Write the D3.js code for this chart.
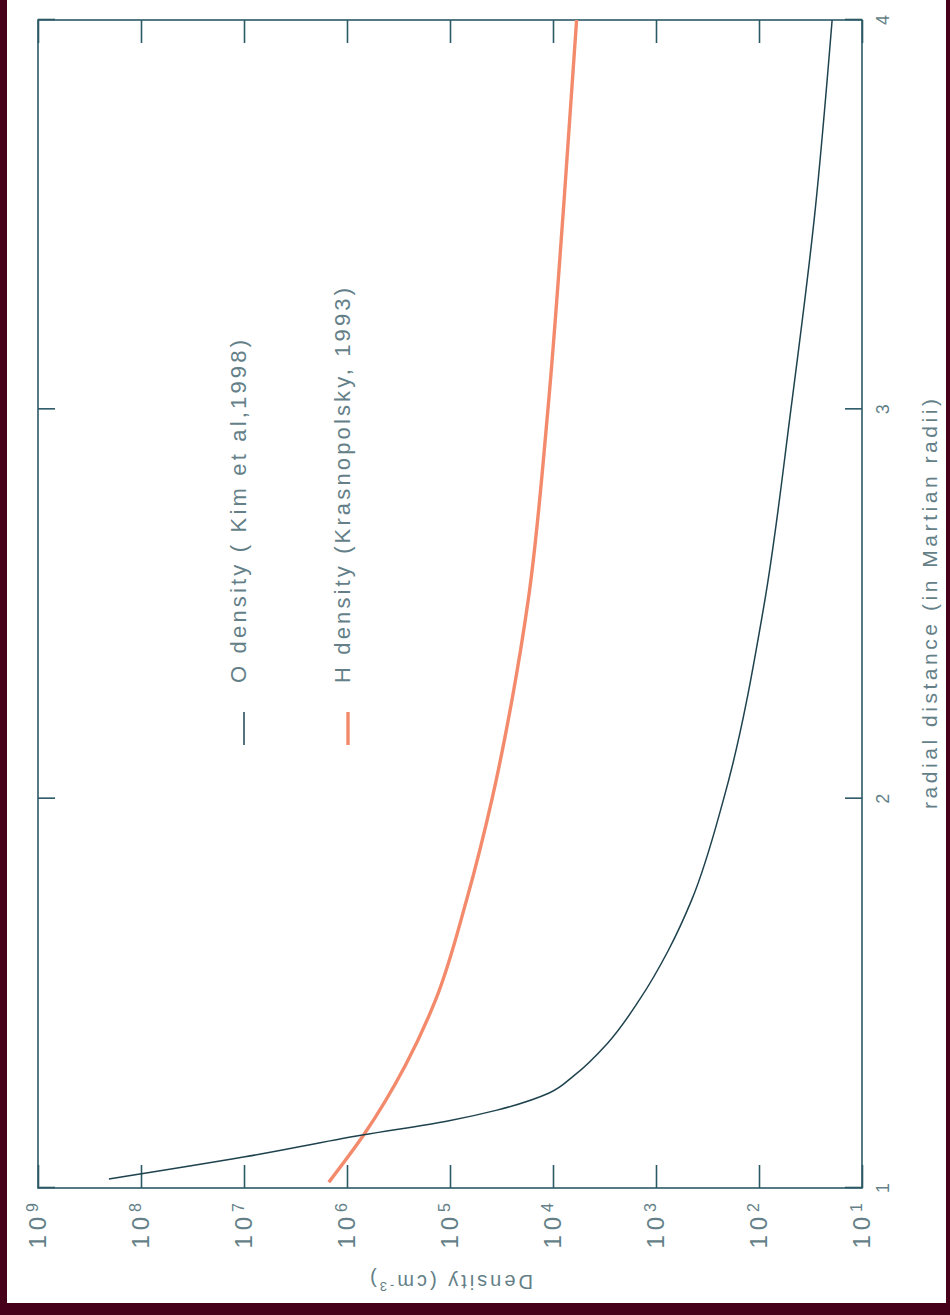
<!DOCTYPE html>
<html><head><meta charset="utf-8">
<script src="https://cdn.jsdelivr.net/npm/d3@7"></script>
<style>html,body{margin:0;padding:0;background:#fff;}</style>
</head><body>
<svg id="c" width="950" height="1315"></svg>
<script>
// ---- data ----
const xTicks = [1, 2, 3, 4];
const yTickExps = [1, 2, 3, 4, 5, 6, 7, 8, 9];
// O density (Kim et al, 1998)
const oRadius  = [1.023, 1.080, 1.136, 1.172, 1.200, 1.244, 1.288, 1.372, 1.483, 1.610, 1.740, 2.000, 2.500, 3.000, 3.500, 4.000];
const oDensity = [2.05e8, 9.8e6, 7.1e5, 1.05e5, 3.5e4, 1.09e4, 6.3e3, 2.95e3, 1.45e3, 7.6e2, 4.5e2, 2.2e2, 89, 49, 28.8, 19.5];
// H density (Krasnopolsky, 1993)
const hRadius  = [1.015, 1.136, 1.316, 1.483, 1.740, 2.000, 2.254, 2.510, 3.000, 3.538, 4.000];
const hDensity = [1.5e6, 6.9e5, 2.7e5, 1.38e5, 6.9e4, 3.9e4, 2.5e4, 1.74e4, 1.12e4, 7.8e3, 5.9e3];
const legendLabels = ["O density ( Kim et al,1998)", "H density (Krasnopolsky, 1993)"];
const xTitle = "radial distance (in Martian radii)";
const yTitle = "Density (cm";

// ---- layout ----
const W = 950, H = 1315;
const svg = d3.select("#c");
const maroon = "#46001a";
svg.append("rect").attr("width", W).attr("height", H).attr("fill", maroon);
svg.append("rect").attr("x", 7).attr("y", 0).attr("width", 939).attr("height", 1303).attr("fill", "#fff");

// chart is drawn in its natural orientation then rotated 90deg counter-clockwise
const g = svg.append("g").attr("transform", `translate(0,${H}) rotate(-90)`);
const axisCol = "#2c5966", textCol = "#647f88";

const x = d3.scaleLinear().domain([1, 4]).range([127, 1295]);
const y = d3.scaleLog().domain([1e1, 1e9]).range([862, 38]);

// frame
g.append("rect").attr("x", x(1)).attr("y", y(1e9)).attr("width", x(4) - x(1)).attr("height", y(1e1) - y(1e9))
  .attr("fill", "none").attr("stroke", axisCol).attr("stroke-width", 1.6);

const yVals = yTickExps.map(e => Math.pow(10, e));
function styleAxis(sel) {
  sel.select(".domain").remove();
  sel.selectAll(".tick line").attr("stroke", axisCol).attr("stroke-width", 1.6);
  sel.selectAll(".tick text").remove();
}
g.append("g").attr("transform", `translate(0,${y(1e1)})`).call(d3.axisBottom(x).tickValues(xTicks).tickSize(-17)).call(styleAxis);
g.append("g").attr("transform", `translate(0,${y(1e9)})`).call(d3.axisTop(x).tickValues(xTicks).tickSize(-17)).call(styleAxis);
g.append("g").attr("transform", `translate(${x(1)},0)`).call(d3.axisLeft(y).tickValues(yVals).tickSize(-23)).call(styleAxis);
g.append("g").attr("transform", `translate(${x(4)},0)`).call(d3.axisRight(y).tickValues(yVals).tickSize(-23)).call(styleAxis);

const font = "'Liberation Sans', Arial, sans-serif";
// x tick labels
g.selectAll("text.xt").data(xTicks).join("text").attr("class", "xt")
  .attr("x", d => x(d)).attr("y", 883).attr("dy", "0.35em")
  .attr("text-anchor", "middle").attr("font-family", font).attr("font-size", 18).attr("fill", textCol)
  .text(d => d);
// y tick labels 10^n
const yt = g.selectAll("text.yt").data(yTickExps).join("text").attr("class", "yt")
  .attr("x", 117).attr("y", d => y(Math.pow(10, d))).attr("dy", "0.35em")
  .attr("text-anchor", "end").attr("font-family", font).attr("font-size", 24).attr("fill", textCol)
  .attr("letter-spacing", 5);
yt.append("tspan").text("10");
yt.append("tspan").attr("dy", "-0.5em").attr("font-size", 16).text(d => d);

// axis titles
g.append("text").attr("x", x(2.5)).attr("y", 930).attr("dy", "0.35em").attr("text-anchor", "middle")
  .attr("font-family", font).attr("font-size", 21).attr("fill", textCol)
  .attr("textLength", 410).attr("lengthAdjust", "spacing").text(xTitle);
const yl = g.append("text").attr("transform", `translate(33,${y(1e5)}) rotate(-90)`).attr("dy", "0.35em")
  .attr("text-anchor", "middle").attr("font-family", font).attr("font-size", 20).attr("fill", textCol)
  .attr("letter-spacing", 3);
yl.append("tspan").text(yTitle);
yl.append("tspan").attr("dy", "-0.5em").attr("font-size", 13).text("-3");
yl.append("tspan").attr("dy", "0.5em").text(")");

// curves
const line = d3.line().x(d => x(d[0])).y(d => y(d[1])).curve(d3.curveMonotoneX);
g.append("path").datum(hRadius.map((r, i) => [r, hDensity[i]])).attr("d", line)
  .attr("fill", "none").attr("stroke", "#f38a6c").attr("stroke-width", 3.4);
g.append("path").datum(oRadius.map((r, i) => [r, oDensity[i]])).attr("d", line)
  .attr("fill", "none").attr("stroke", "#1f434e").attr("stroke-width", 1.5);

// legend
const legCols = ["#1f434e", "#f38a6c"], legW = [1.5, 3.4], legV = [244, 348], legLen = [343, 395];
legendLabels.forEach((lab, i) => {
  g.append("line").attr("x1", 570).attr("x2", 603).attr("y1", legV[i]).attr("y2", legV[i])
    .attr("stroke", legCols[i]).attr("stroke-width", legW[i]);
  g.append("text").attr("x", 632).attr("y", legV[i] - 6).attr("dy", "0.35em")
    .attr("font-family", font).attr("font-size", 22).attr("fill", textCol)
    .attr("textLength", legLen[i]).attr("lengthAdjust", "spacing").text(lab);
});
</script>
</body></html>
